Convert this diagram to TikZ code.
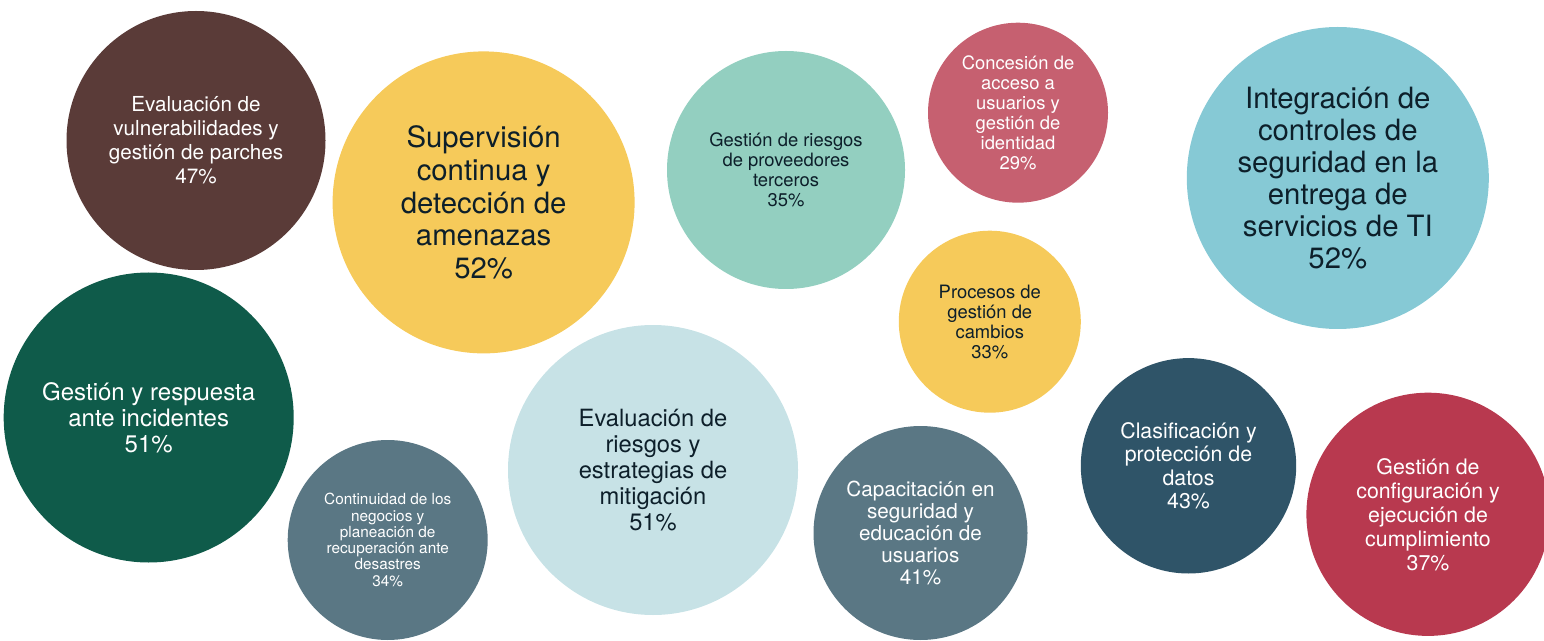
\documentclass[tikz,border=0pt]{standalone}
\usepackage{fontspec}
\setmainfont{TeX Gyre Heros}
\definecolor{cbrown}{HTML}{5A3B38}
\definecolor{cyellow}{HTML}{F6CA5A}
\definecolor{cteal}{HTML}{93CFC0}
\definecolor{cpink}{HTML}{C66070}
\definecolor{clblue}{HTML}{86C9D5}
\definecolor{cgreen}{HTML}{0F5B4A}
\definecolor{cpale}{HTML}{C7E2E6}
\definecolor{cslate}{HTML}{5A7784}
\definecolor{cdslate}{HTML}{2F5468}
\definecolor{cred}{HTML}{B8394F}
\definecolor{cdark}{HTML}{0D1F2A}
\begin{document}
\begin{tikzpicture}[x=0.75pt,y=-0.75pt,
  bub/.style={circle,inner sep=0pt,align=center,minimum size=#1*1.5pt},
  wt/.style={text=white},
  dk/.style={text=cdark}]
\useasboundingbox (0,0) rectangle (1544,641);
\node[bub=129.5,fill=cbrown,wt,font=\fontsize{15.5}{18}\selectfont] (vuln) at (196,140.5)
  {Evaluación de\\vulnerabilidades y\\gestión de parches\\47\%};
\node[bub=151,fill=cyellow,dk,font=\fontsize{22}{24.4}\selectfont] (superv) at (483.6,202.4)
  {Supervisión\\continua y\\detección de\\amenazas\\52\%};
\node[bub=119,fill=cteal,dk,font=\fontsize{13.8}{15}\selectfont] (prov) at (786,170)
  {Gestión de riesgos\\de proveedores\\terceros\\35\%};
\node[bub=90,fill=cpink,wt,font=\fontsize{13.8}{15}\selectfont] (acceso) at (1018,112.7)
  {Concesión de\\acceso a\\usuarios y\\gestión de\\identidad\\29\%};
\node[bub=151,fill=clblue,dk,font=\fontsize{22}{24}\selectfont] (integ) at (1337.8,178)
  {Integración de\\controles de\\seguridad en la\\entrega de\\servicios de TI\\52\%};
\node[bub=91,fill=cyellow,dk,font=\fontsize{13.8}{15}\selectfont] (cambios) at (989.8,321.7)
  {Procesos de\\gestión de\\cambios\\33\%};
\node[bub=145,fill=cgreen,wt,font=\fontsize{18}{19.5}\selectfont] (incid) at (148.7,417.5)
  {Gestión y respuesta\\ante incidentes\\51\%};
\node[bub=145,fill=cpale,dk,font=\fontsize{17.8}{19.5}\selectfont] (riesgos) at (653,470)
  {Evaluación de\\riesgos y\\estrategias de\\mitigación\\51\%};
\node[bub=100,fill=cslate,wt,font=\fontsize{11.5}{12.2}\selectfont] (contin) at (387.7,540)
  {Continuidad de los\\negocios y\\planeación de\\recuperación ante\\desastres\\34\%};
\node[bub=107,fill=cslate,wt,font=\fontsize{15.5}{16.5}\selectfont] (capac) at (920.5,533)
  {Capacitación en\\seguridad y\\educación de\\usuarios\\41\%};
\node[bub=107.7,fill=cdslate,wt,font=\fontsize{16}{17.6}\selectfont] (clasif) at (1188.5,465.8)
  {Clasificación y\\protección de\\datos\\43\%};
\node[bub=121.6,fill=cred,wt,font=\fontsize{16}{18}\selectfont] (config) at (1428,514.3)
  {Gestión de\\configuración y\\ejecución de\\cumplimiento\\37\%};
\end{tikzpicture}
\end{document}
